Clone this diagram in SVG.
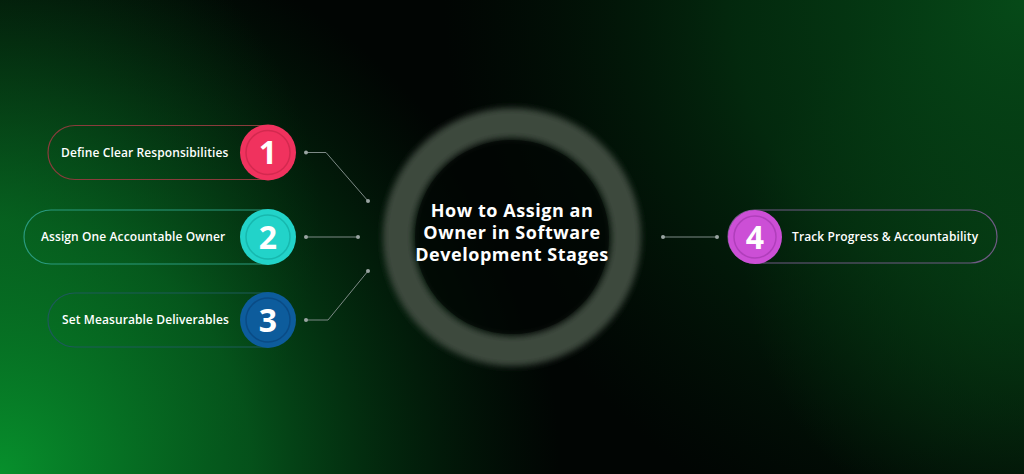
<svg xmlns="http://www.w3.org/2000/svg" width="1024" height="474" viewBox="0 0 1024 474">
<defs>
<radialGradient id="gBL" cx="0" cy="474" r="560" gradientUnits="userSpaceOnUse">
<stop offset="0" stop-color="#07902c"/>
<stop offset="0.45" stop-color="#066a22" stop-opacity="0.75"/>
<stop offset="1" stop-color="#033a12" stop-opacity="0"/>
</radialGradient>
<radialGradient id="gTR" cx="1024" cy="0" r="580" gradientUnits="userSpaceOnUse">
<stop offset="0" stop-color="#064a18"/>
<stop offset="0.5" stop-color="#043812" stop-opacity="0.7"/>
<stop offset="1" stop-color="#02200a" stop-opacity="0"/>
</radialGradient>
<radialGradient id="gR" cx="1024" cy="260" r="280" gradientUnits="userSpaceOnUse">
<stop offset="0" stop-color="#0a4a18" stop-opacity="0.85"/>
<stop offset="1" stop-color="#0a4a18" stop-opacity="0"/>
</radialGradient>
<radialGradient id="gL" cx="0" cy="220" r="320" gradientUnits="userSpaceOnUse">
<stop offset="0" stop-color="#0a5a1e" stop-opacity="0.75"/>
<stop offset="1" stop-color="#0a4a1a" stop-opacity="0"/>
</radialGradient>
<filter id="blur" x="-20%" y="-20%" width="140%" height="140%">
<feGaussianBlur stdDeviation="3"/>
</filter>
<style>
.lbl{font-family:"Open Sans","Liberation Sans",sans-serif;font-weight:600;font-size:12px;letter-spacing:0.1px;fill:#ffffff}
.num{font-family:"Open Sans","Liberation Sans",sans-serif;font-weight:700;font-size:32px;fill:#ffffff;text-anchor:middle}
.ttl{font-family:"Open Sans","Liberation Sans",sans-serif;font-weight:700;font-size:18px;letter-spacing:0.55px;fill:#ffffff;text-anchor:middle}
.pill{fill:none;stroke-width:1.2}
.inner{fill:none;stroke-width:1.5}
.con{fill:none;stroke:#7d8a86;stroke-width:1}
.dot{fill:#9aa5a2}
</style>
</defs>
<rect width="1024" height="474" fill="#010503"/>
<rect width="1024" height="474" fill="url(#gL)"/>
<rect width="1024" height="474" fill="url(#gR)"/>
<rect width="1024" height="474" fill="url(#gTR)"/>
<rect width="1024" height="474" fill="url(#gBL)"/>

<g id="center">
<circle cx="512" cy="237" r="114" fill="none" stroke="#3c483e" stroke-width="30" filter="url(#blur)"/>
<circle cx="512" cy="237" r="97" fill="#010503" opacity="0.6"/>
<text class="ttl" x="512" y="217">How to Assign an</text>
<text class="ttl" x="512" y="239">Owner in Software</text>
<text class="ttl" x="512" y="261">Development Stages</text>
</g>

<g id="connectors">
<polyline class="con" points="306,152.5 326,152.5 368,201"/>
<line class="con" x1="306" y1="237" x2="358" y2="237"/>
<polyline class="con" points="306,320 328,320 368,271"/>
<line class="con" x1="663" y1="237" x2="717" y2="237"/>
<circle class="dot" cx="306" cy="152.5" r="2"/>
<circle class="dot" cx="368" cy="201" r="2"/>
<circle class="dot" cx="306" cy="237" r="2"/>
<circle class="dot" cx="358" cy="237" r="2"/>
<circle class="dot" cx="306" cy="320" r="2"/>
<circle class="dot" cx="368" cy="271" r="2"/>
<circle class="dot" cx="663" cy="237" r="2"/>
<circle class="dot" cx="717" cy="237" r="2"/>
</g>

<g id="node1">
<rect class="pill" x="48" y="125.5" width="246" height="54" rx="27" stroke="#8a3c3c"/>
<text class="lbl" x="61" y="156.5">Define Clear Responsibilities</text>
<circle cx="268" cy="152.5" r="28" fill="#f0325e"/>
<circle class="inner" cx="268" cy="152.5" r="22" stroke="#d3294f"/>
<text class="num" x="268" y="164">1</text>
</g>

<g id="node2">
<rect class="pill" x="24" y="210" width="270" height="54" rx="27" stroke="#2a9a7e"/>
<text class="lbl" x="41" y="241">Assign One Accountable Owner</text>
<circle cx="268" cy="237" r="28" fill="#22d3c9"/>
<circle class="inner" cx="268" cy="237" r="22" stroke="#17b8ae"/>
<text class="num" x="268" y="248.5">2</text>
</g>

<g id="node3">
<rect class="pill" x="48" y="293" width="246" height="54" rx="27" stroke="#1d5a5a"/>
<text class="lbl" x="62" y="324">Set Measurable Deliverables</text>
<circle cx="268" cy="320" r="28" fill="#0d5c9c"/>
<circle class="inner" cx="268" cy="320" r="22" stroke="#0a4b85"/>
<text class="num" x="268" y="331.5">3</text>
</g>

<g id="node4">
<rect class="pill" x="728" y="210" width="269" height="53" rx="26.5" stroke="#6f5a84"/>
<text class="lbl" x="792" y="241">Track Progress &amp; Accountability</text>
<circle cx="755" cy="237" r="27" fill="#cc4fd6"/>
<circle class="inner" cx="755" cy="237" r="21" stroke="#b03fbb"/>
<text class="num" x="755" y="248.5">4</text>
</g>
</svg>
